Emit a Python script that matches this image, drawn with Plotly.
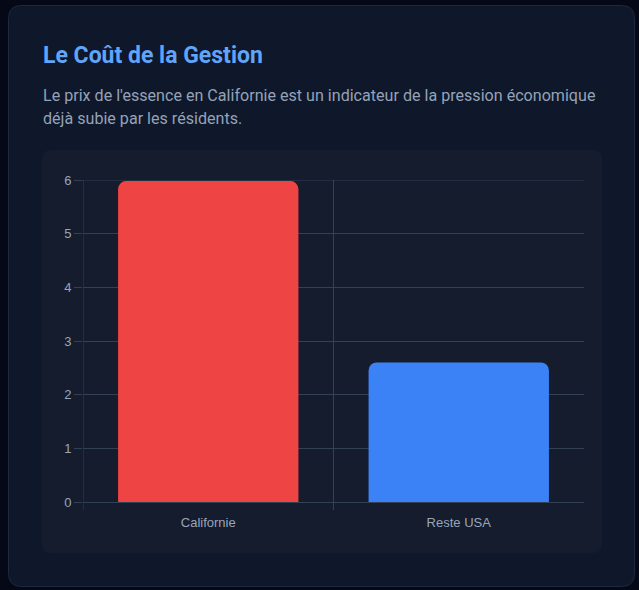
import plotly.graph_objects as go

# ---- data ----
categories = ["Californie", "Reste USA"]
values = [5.98, 2.60]
bar_colors = ["#ef4444", "#3b82f6"]
y_ticks = [0, 1, 2, 3, 4, 5, 6]

title_text = "Le Coût de la Gestion"
subtitle_lines = [
    "Le prix de l'essence en Californie est un indicateur de la pression économique",
    "déjà subie par les résidents.",
]

# ---- layout geometry (pixels) ----
W, H = 639, 590
PL, PR, PT, PB = 83, 584, 180, 502  # plot area


def px(x):
    return (x - PL) / (PR - PL)


def py(y):
    return (PB - y) / (PB - PT)


def rounded_rect(x0, y0, x1, y1, r):
    pts = [
        f"M {px(x0 + r)} {py(y0)}",
        f"L {px(x1 - r)} {py(y0)}",
        f"Q {px(x1)} {py(y0)} {px(x1)} {py(y0 + r)}",
        f"L {px(x1)} {py(y1 - r)}",
        f"Q {px(x1)} {py(y1)} {px(x1 - r)} {py(y1)}",
        f"L {px(x0 + r)} {py(y1)}",
        f"Q {px(x0)} {py(y1)} {px(x0)} {py(y1 - r)}",
        f"L {px(x0)} {py(y0 + r)}",
        f"Q {px(x0)} {py(y0)} {px(x0 + r)} {py(y0)}",
        "Z",
    ]
    return " ".join(pts)


GRID = "#334155"
TICKTXT = "#9aa5b8"

fig = go.Figure(
    go.Bar(
        x=categories,
        y=values,
        marker=dict(color=bar_colors, line=dict(width=0)),
        hoverinfo="skip",
    )
)

shapes = [
    # card
    dict(type="path", xref="paper", yref="paper", layer="below",
         path=rounded_rect(8.5, 5.5, 634.5, 586.5, 13),
         fillcolor="#0f172a", line=dict(color="#1e293b", width=1)),
    # inner panel
    dict(type="path", xref="paper", yref="paper", layer="below",
         path=rounded_rect(42, 150, 602, 553, 9),
         fillcolor="#141c2e", line=dict(width=0)),
    # top grid line (at max tick)
    dict(type="line", xref="paper", yref="y", layer="below",
         x0=px(75), x1=1, y0=y_ticks[-1], y1=y_ticks[-1],
         line=dict(color=GRID, width=1)),
]
# vertical grid lines at category boundaries (left border and middle)
for b in [-0.5, 0.5]:
    shapes.append(dict(type="line", xref="x", yref="paper", layer="below",
                       x0=b, x1=b, y0=py(510), y1=1,
                       line=dict(color=GRID, width=1)))

annotations = [
    dict(text=f"<b>{title_text}</b>", xref="paper", yref="paper",
         x=px(40.5), y=py(55), xanchor="left", yanchor="middle", showarrow=False,
         font=dict(family="Roboto", size=23, color="#60a5fa")),
]
for i, line in enumerate(subtitle_lines):
    annotations.append(dict(text=line, xref="paper", yref="paper",
                            x=px(40.5), y=py(96 + 23 * i), xanchor="left", yanchor="middle",
                            showarrow=False,
                            font=dict(family="Roboto", size=16.1, color="#94a3b8")))

fig.update_layout(
    width=W, height=H,
    margin=dict(l=PL, r=W - PR, t=PT, b=H - PB, pad=0),
    paper_bgcolor="#050816",
    plot_bgcolor="rgba(0,0,0,0)",
    bargap=0.28,
    barcornerradius=8,
    showlegend=False,
    shapes=shapes,
    annotations=annotations,
    font=dict(family="Liberation Sans, Arial", size=13, color=TICKTXT),
    xaxis=dict(
        type="category",
        range=[-0.5, 1.5],
        showgrid=False, zeroline=False, showline=False,
        ticks="outside", ticklen=8, tickcolor="rgba(0,0,0,0)",
        tickfont=dict(family="Liberation Sans, Arial", size=13, color=TICKTXT),
        fixedrange=True,
    ),
    yaxis=dict(
        range=[0, 6],
        tickvals=y_ticks,
        showgrid=True, gridcolor=GRID, gridwidth=1,
        zeroline=True, zerolinecolor=GRID, zerolinewidth=1,
        showline=False,
        ticks="outside", ticklen=8, tickcolor=GRID,
        tickfont=dict(family="Liberation Sans, Arial", size=13, color=TICKTXT),
        fixedrange=True,
    ),
)

fig.write_html(
    "out.html",
    config=dict(displayModeBar=False, staticPlot=True),
    post_script="document.body.style.margin='0';document.body.style.background='#050816';",
)
